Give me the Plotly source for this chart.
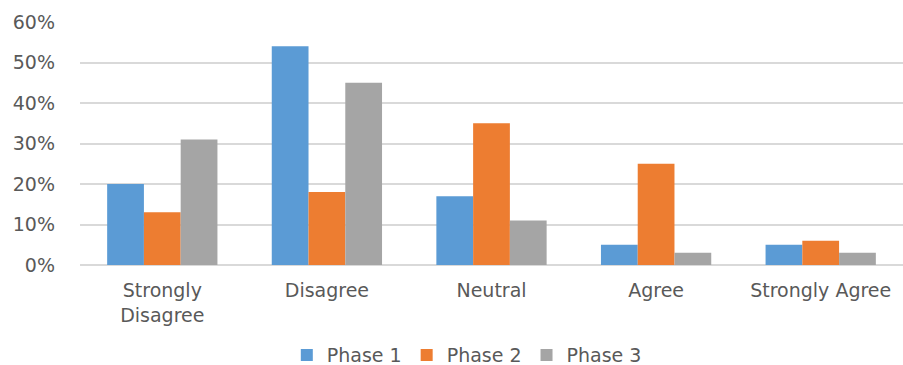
import plotly.graph_objects as go

categories = ["Strongly<br>Disagree", "Disagree", "Neutral", "Agree", "Strongly Agree"]
phase1 = [0.20, 0.54, 0.17, 0.05, 0.05]
phase2 = [0.13, 0.18, 0.35, 0.25, 0.06]
phase3 = [0.31, 0.45, 0.11, 0.03, 0.03]
tick_vals = [0, 0.1, 0.2, 0.3, 0.4, 0.5, 0.6]
tick_text = ["0%", "10%", "20%", "30%", "40%", "50%", "60%"]

series = [("Phase 1", phase1, "#5B9BD5"),
          ("Phase 2", phase2, "#ED7D31"),
          ("Phase 3", phase3, "#A5A5A5")]

fig = go.Figure()
for name, vals, color in series:
    fig.add_trace(go.Bar(x=categories, y=vals, name=name,
                         marker=dict(color=color, line=dict(width=0))))

font_family = "'DejaVu Sans', sans-serif"
text_color = "#595959"
fig.update_layout(
    width=903, height=365,
    margin=dict(l=80, r=0, t=22, b=100, autoexpand=False),
    paper_bgcolor="white", plot_bgcolor="white",
    barmode="group", bargap=0.33, bargroupgap=0,
    font=dict(family=font_family, size=19, color=text_color),
    xaxis=dict(showgrid=False, showline=False, ticks="",
               ticklabelstandoff=12,
               tickfont=dict(size=19, color=text_color)),
    yaxis=dict(range=[0, 0.6], tickvals=tick_vals, ticktext=tick_text,
               showgrid=True, gridcolor="#D9D9D9", gridwidth=1.5,
               zeroline=True, zerolinecolor="#D9D9D9", zerolinewidth=1.5,
               showline=False, ticks="", ticklabelstandoff=24,
               tickfont=dict(size=19, color=text_color)),
    legend=dict(orientation="h", x=0.47, xanchor="center",
                yref="container", y=0.027, yanchor="middle",
                font=dict(size=19, color=text_color), itemwidth=30,
                traceorder="normal"),
)

fig.write_html("out.html")
